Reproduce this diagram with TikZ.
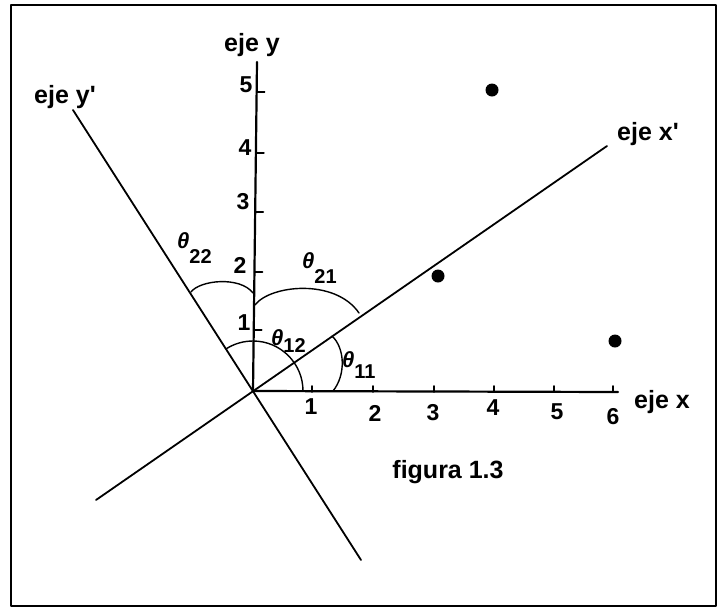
\documentclass[tikz,border=0pt]{standalone}
\usepackage{fontspec}
\setmainfont{Liberation Sans}[Ligatures=TeXOff]
\begin{document}
\begin{tikzpicture}[x=1pt,y=-1pt, line cap=round, line join=round,
  ax/.style={line width=2.2pt},
  rax/.style={line width=1.8pt},
  tick/.style={line width=1.6pt},
  arcl/.style={line width=1.4pt},
  lab/.style={font=\fontsize{25}{28}\bfseries\selectfont, inner sep=0pt},
  num/.style={font=\fontsize{23}{26}\bfseries\selectfont, inner sep=0pt},
  thl/.style={font=\fontsize{22}{24}\bfseries\itshape\selectfont, inner sep=0pt, anchor=base west},
  pt/.style={circle, fill=black, inner sep=0pt, minimum size=13pt}]
\newcommand{\thsub}[2]{θ\raisebox{#1}{\fontsize{20}{22}\selectfont\upshape #2}}
\useasboundingbox (0,0) rectangle (723,611);
\draw[line width=2.2pt] (11,5) rectangle (716,606);
% axes
\coordinate (O) at (253,391);
\coordinate (Xe) at (618,392);
\coordinate (Ye) at (257,62);
\coordinate (XPa) at (96,500);
\coordinate (XPb) at (607,146);
\coordinate (YPa) at (73,110);
\coordinate (YPb) at (361,560);
\draw[ax] (O) -- (Xe);
\draw[ax] (O) -- (Ye);
\draw[rax] (XPa) -- (XPb);
\draw[rax] (YPa) -- (YPb);
% ticks
\foreach \x in {312,373,434,494,554,613} \draw[tick] (\x,392) -- (\x,386);
\foreach \y/\xa in {92/256.6,153/255.9,212/255.2,272/254.5,330/253.7} \draw[tick] (\xa,\y) -- (\xa+8,\y);
% tick labels
\node[num] (n1) at (311,407) {1};
\node[num] (n2) at (375,413) {2};
\node[num] (n3) at (433,413) {3};
\node[num] (n4) at (493,408) {4};
\node[num] (n5) at (557,412) {5};
\node[num] (n6) at (613,417) {6};
\node[num] (m1) at (244,323) {1};
\node[num] (m2) at (240,265) {2};
\node[num] (m3) at (243,202) {3};
\node[num] (m4) at (245,148) {4};
\node[num] (m5) at (246,85) {5};
% axis labels
\node[lab] (ly) at (252,45) {eje y};
\node[lab] (lyp) at (65,97) {eje y'};
\node[lab] (lxp) at (648,134) {eje x'};
\node[lab] (lx) at (662,402) {eje x};
\node[lab] (fig) at (448,472) {figura 1.3};
% points
\node[pt] (p1) at (492,90) {};
\node[pt] (p2) at (438,276) {};
\node[pt] (p3) at (615,341) {};
% angle arcs
\draw[arcl] (303,391) arc[start angle=0, end angle=-122.6, radius=50];
\draw[arcl] (333,391) .. controls (346,375) and (345,348) .. (332,336);
\draw[arcl] (191,292) .. controls (200,280) and (240,276) .. (253,293);
\draw[arcl] (255,305) .. controls (270,285) and (335,278) .. (359,313);
% angle labels
\node[thl] (t22) at (177,248) {\thsub{-15pt}{22}};
\node[thl] (t21) at (302,268) {\thsub{-15pt}{21}};
\node[thl] (t12) at (271,345) {\thsub{-7pt}{12}};
\node[thl] (t11) at (342,367) {\thsub{-11pt}{11}};
\end{tikzpicture}
\end{document}
